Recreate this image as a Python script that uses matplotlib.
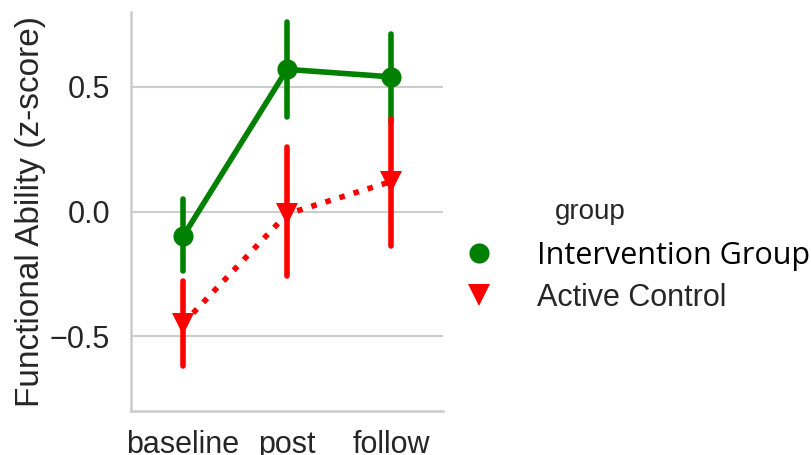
import matplotlib
matplotlib.use("Agg")
import matplotlib.pyplot as plt
from matplotlib.lines import Line2D
import numpy as np

plt.rcParams['font.family'] = ['Liberation Sans', 'DejaVu Sans']
plt.rcParams['axes.unicode_minus'] = True

# data
sessions = ["baseline", "post", "follow"]
groups = ["Intervention Group", "Active Control"]
interv_mean = [-0.10, 0.57, 0.54]
interv_low = [-0.24, 0.38, 0.36]
interv_high = [0.05, 0.76, 0.71]
control_mean = [-0.45, -0.01, 0.12]
control_low = [-0.62, -0.26, -0.14]
control_high = [-0.28, 0.26, 0.37]

GREEN = "#008000"
RED = "#ff0000"
GRID = "#cccccc"

fig = plt.figure(figsize=(8.12, 4.55), dpi=100)
ax = fig.add_axes([131 / 812, 1 - 411 / 455, (443 - 131) / 812, (411 - 12) / 455])

x = np.arange(len(sessions))

def draw_group(mean, low, high, color, marker, ls, ms):
    for xi, lo, hi in zip(x, low, high):
        ax.plot([xi, xi], [lo, hi], color=color, lw=4.0, solid_capstyle='round', zorder=3)
    ax.plot(x, mean, color=color, lw=4.0, ls=ls, marker=marker, ms=ms,
            markeredgewidth=0, zorder=4)

draw_group(interv_mean, interv_low, interv_high, GREEN, 'o', '-', 14.5)
draw_group(control_mean, control_low, control_high, RED, 'v', ':', 15.5)

ax.set_xlim(-0.5, 2.5)
ax.set_ylim(-0.8, 0.8)
ax.set_xticks(x)
ax.set_xticklabels(sessions)
ax.set_yticks([-0.5, 0.0, 0.5])
ax.set_yticklabels(["\u22120.5", "0.0", "0.5"])
ax.tick_params(axis='both', length=0, labelsize=22, labelcolor="#262626")
ax.tick_params(axis='y', pad=15)
ax.tick_params(axis='x', pad=14)
ax.yaxis.grid(True, color=GRID, lw=1.5)
ax.set_axisbelow(True)
for side in ['top', 'right']:
    ax.spines[side].set_visible(False)
for side in ['left', 'bottom']:
    ax.spines[side].set_color(GRID)
    ax.spines[side].set_linewidth(1.8)
ax.set_ylabel("Functional Ability (z-score)", fontsize=24, color="#262626", labelpad=3)

# legend outside on the right
handles = [
    Line2D([], [], color=GREEN, marker='o', ls='none', ms=14.5, markeredgewidth=0),
    Line2D([], [], color=RED, marker='v', ls='none', ms=15.5, markeredgewidth=0),
]
leg = fig.legend(handles, groups, loc='upper left', bbox_to_anchor=(448 / 812, 1 - 241 / 455),
                 frameon=False, fontsize=22, handletextpad=0.92, labelspacing=0.38,
                 borderpad=0, borderaxespad=0)
texts = leg.get_texts()
texts[0].set_fontfamily(['Open Sans', 'DejaVu Sans'])
texts[0].set_color("black")
texts[1].set_color("#262626")
fig.text(590 / 812, 1 - 212 / 455, "group", fontsize=20, color="#262626",
         ha='center', va='center')

fig.savefig("out.png", dpi=100)
